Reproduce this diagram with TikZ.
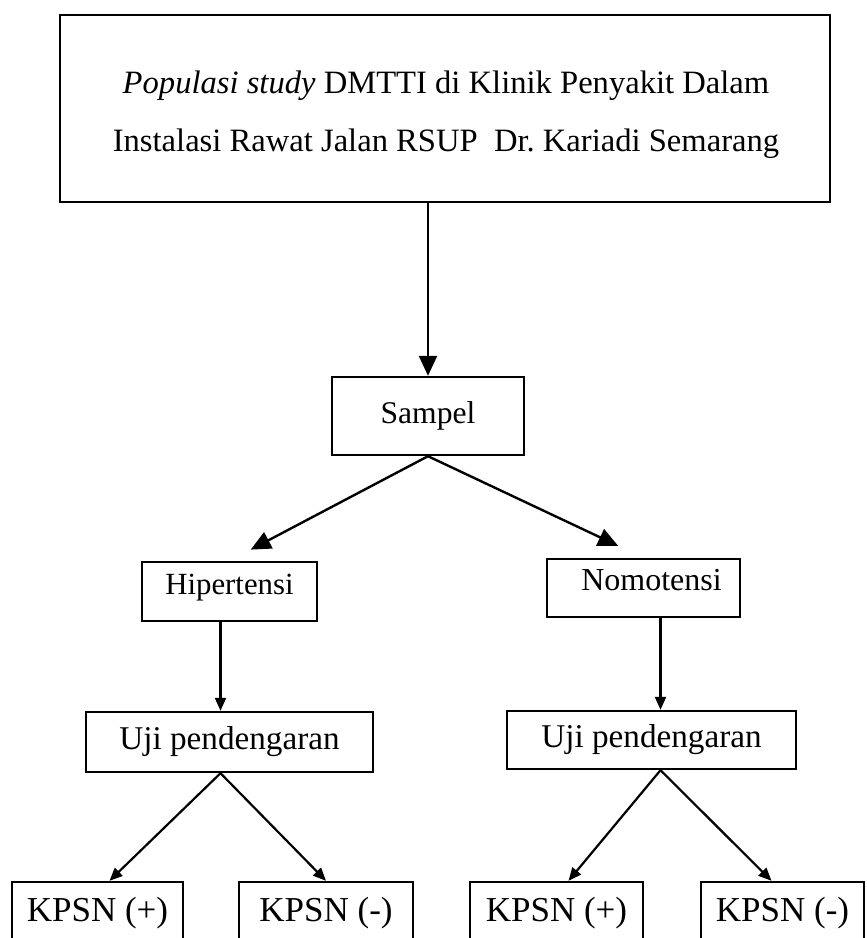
\documentclass[tikz,border=0pt]{standalone}
\usepackage{fontspec}
\setmainfont{Liberation Serif}
\usepackage{tikz}
\usetikzlibrary{calc,positioning}
\usetikzlibrary{arrows.meta}

\begin{document}
\begin{tikzpicture}[x=0.5pt, y=-0.5pt,
	box/.style = {draw, line width=1.2pt, inner sep=0pt, font=\fontsize{16}{18}\selectfont},
	big/.style = {-{Triangle[length=10pt,width=9pt]}, line width=1.2pt},
	small/.style = {-{Triangle[length=6.5pt,width=5.5pt]}, line width=1.1pt}]
		\clip (0,0) rectangle (867,938);
		\node[box, minimum width=385pt, minimum height=93.5pt] (popul) at (445,108.5) {};
		\node[align=center, inner sep=0pt, font=\fontsize{16.3}{29}\selectfont] (popultxt) at (446,115) {\textit{Populasi study} DMTTI di Klinik Penyakit Dalam\\ Instalasi Rawat Jalan RSUP\ \ Dr.\ Kariadi Semarang};
		\node[box, minimum width=96pt, minimum height=39pt, font=\fontsize{15.8}{18}\selectfont] (sampel) at (428,416) {Sampel};
		\node[box, minimum width=87.5pt, minimum height=29.5pt, font=\fontsize{15.4}{18}\selectfont, text height=10.5pt, text depth=8pt] (hiper) at (229.5,591.5) {Hipertensi};
		\node[box, minimum width=96.5pt, minimum height=29pt, text height=10.5pt, text depth=8pt] (nomo) at (643.5,588) {\hspace{8pt}Nomotensi};
		\node[box, minimum width=143.5pt, minimum height=30pt, font=\fontsize{16.6}{18}\selectfont] (uji1) at (229.5,742) {Uji pendengaran};
		\node[box, minimum width=144.5pt, minimum height=29pt, font=\fontsize{16.6}{18}\selectfont] (uji2) at (651.5,740) {Uji pendengaran};
		\node[box, minimum width=85.5pt, minimum height=31pt, font=\fontsize{17.5}{18}\selectfont] (kpsn1) at (97.5,913) {KPSN (+)};
		\node[box, minimum width=87pt, minimum height=31pt, font=\fontsize{17.5}{18}\selectfont] (kpsn2) at (326,913) {KPSN (-)};
		\node[box, minimum width=86.5pt, minimum height=31pt, font=\fontsize{17.5}{18}\selectfont] (kpsn3) at (556.5,913) {KPSN (+)};
		\node[box, minimum width=81.5pt, minimum height=31pt, font=\fontsize{17.5}{18}\selectfont] (kpsn4) at (782.5,913) {KPSN (-)};
		\draw[big] (popul.south -| sampel.north) -- (sampel.north);
		\draw[big, shorten >=12pt] (sampel.south) -- (hiper.north);
		\draw[big, shorten >=14pt] (sampel.south) -- (nomo.north);
		\draw[small] ([xshift=-4.5pt]hiper.south) -- ([xshift=-4.5pt]uji1.north);
		\draw[small] ([xshift=8.5pt]nomo.south) -- ([xshift=4.5pt]uji2.north);
		\draw[small] ([xshift=-4.5pt]uji1.south) -- ([xshift=6pt]kpsn1.north);
		\draw[small] ([xshift=-4.5pt]uji1.south) -- (kpsn2.north);
		\draw[small] ([xshift=4.5pt]uji2.south) -- ([xshift=6pt]kpsn3.north);
		\draw[small] ([xshift=4.5pt]uji2.south) -- ([xshift=-5.5pt]kpsn4.north);
	\end{tikzpicture}
\end{document}
